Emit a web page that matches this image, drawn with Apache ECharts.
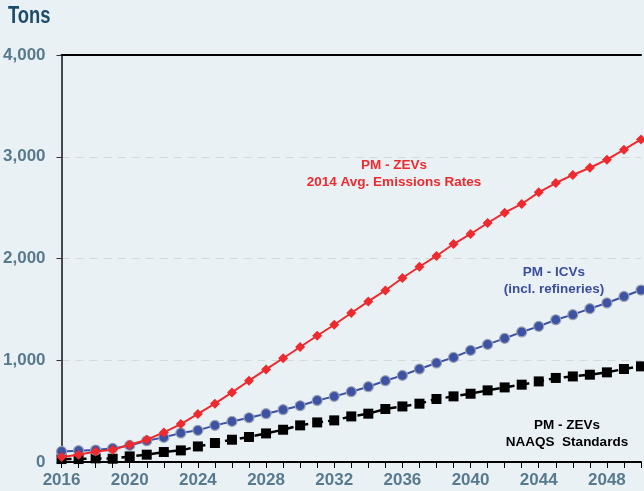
<!DOCTYPE html>
<html><head><meta charset="utf-8">
<script src="https://cdn.jsdelivr.net/npm/echarts@6/dist/echarts.min.js"></script>
<style>html,body{margin:0;padding:0;background:#eaf1f5;}#c{width:644px;height:491px;}</style>
</head><body><div id="c"></div>
<script>
const years = [2016,2017,2018,2019,2020,2021,2022,2023,2024,2025,2026,2027,2028,2029,2030,2031,2032,2033,2034,2035,2036,2037,2038,2039,2040,2041,2042,2043,2044,2045,2046,2047,2048,2049,2050];
const zevAvg = [50,72,104,121,170,219,291,373,472,573,684,799,910,1020,1130,1241,1349,1464,1578,1686,1808,1919,2025,2142,2241,2349,2450,2536,2650,2742,2821,2892,2971,3069,3170];
const icv = [104,111,118,134,163,209,242,285,311,360,399,435,475,514,553,605,645,691,740,799,851,914,973,1028,1097,1156,1215,1278,1333,1398,1448,1507,1563,1627,1690];
const zevNaaqs = [29,29,36,32,55,72,98,114,153,187,219,246,281,317,360,389,409,448,475,521,546,573,619,645,671,704,733,760,792,826,841,858,881,914,940];
const yTicks = [0,1000,2000,3000,4000];
const xLabelYears = [2016,2020,2024,2028,2032,2036,2040,2044,2048];

const pairs = a => years.map((y,i)=>[y,a[i]]);
const sans = '"Liberation Sans",Arial,sans-serif';
const chart = echarts.init(document.getElementById('c'));
chart.setOption({
  backgroundColor:'#eaf1f5',
  animation:false,
  grid:{left:61,right:-4,top:55,bottom:29,containLabel:false},
  xAxis:[{
    type:'value',min:2016,max:2050,interval:1,
    axisLine:{show:true,lineStyle:{color:'#000',width:2}},
    axisTick:{show:true,length:6,lineStyle:{color:'#000',width:1}},
    splitLine:{show:false},
    axisLabel:{margin:10,color:'#587a8d',fontFamily:sans,fontWeight:'bold',fontSize:17,
      formatter:v=>xLabelYears.indexOf(v)>=0?String(v):''}
  },{
    type:'value',position:'top',min:2016,max:2050,
    axisLine:{show:true,onZero:false,lineStyle:{color:'#000',width:2}},
    axisTick:{show:false},axisLabel:{show:false},splitLine:{show:false}
  }],
  yAxis:{
    type:'value',min:0,max:4000,interval:1000,
    axisLine:{show:true,lineStyle:{color:'#111',width:1.5}},
    axisTick:{show:true,length:5,lineStyle:{color:'#333',width:1}},
    splitLine:{show:true,lineStyle:{color:'#d3d8dc',type:[8,6],width:1}},
    axisLabel:{margin:16,color:'#587a8d',fontFamily:sans,fontWeight:'bold',fontSize:17,
      formatter:v=>yTicks.indexOf(v)>=0?v.toLocaleString('en-US'):''}
  },
  series:[
    {type:'line',data:pairs(icv),symbol:'circle',symbolSize:10,
      lineStyle:{color:'#3d50a5',width:2},
      itemStyle:{color:'#3d52a3',borderColor:'#9aa3b5',borderWidth:1.2},z:3},
    {type:'line',data:pairs(zevNaaqs),symbol:'rect',symbolSize:10,
      lineStyle:{color:'#000',width:2.5,type:[10,5]},
      itemStyle:{color:'#000'},z:2},
    {type:'line',data:pairs(zevAvg),symbol:'diamond',symbolSize:10,
      lineStyle:{color:'#ee2a2e',width:2},
      itemStyle:{color:'#ee2a2e'},z:4}
  ],
  graphic:[
    {type:'text',x:8,y:5,scaleX:0.8,style:{text:'Tons',fill:'#1b4a6b',font:'bold 23px '+sans}},
    {type:'text',x:394,y:174,style:{text:'PM - ZEVs\n2014 Avg. Emissions Rates',fill:'#ee2a2e',font:'bold 13.5px '+sans,textAlign:'center',textVerticalAlign:'middle',lineHeight:17}},
    {type:'text',x:554,y:281,style:{text:'PM - ICVs\n(incl. refineries)',fill:'#3a4d9f',font:'bold 13.5px '+sans,textAlign:'center',textVerticalAlign:'middle',lineHeight:17}},
    {type:'text',x:567,y:434,style:{text:'PM - ZEVs\nNAAQS  Standards',fill:'#000',font:'bold 13.5px '+sans,textAlign:'center',textVerticalAlign:'middle',lineHeight:17}}
  ]
});
</script></body></html>
